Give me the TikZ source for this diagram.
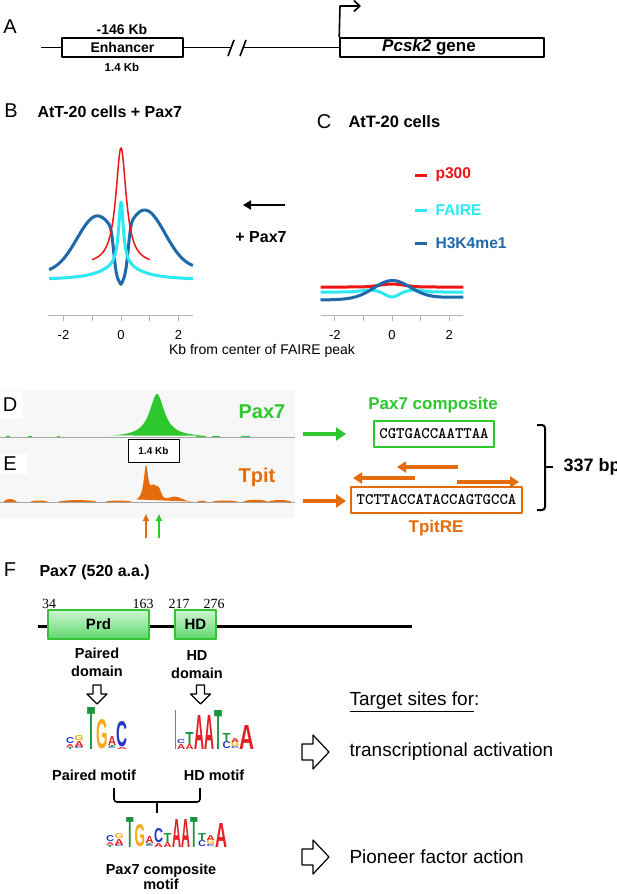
\documentclass[tikz,border=0pt]{standalone}
\usepackage{fontspec}
\setmainfont{Liberation Sans}
\newfontfamily\serifnum{Liberation Serif}
\usepackage{graphicx}
\usetikzlibrary{arrows.meta}
\definecolor{pred}{RGB}{240,20,20}
\definecolor{pcyan}{RGB}{45,232,240}
\definecolor{pblue}{RGB}{30,105,170}
\definecolor{pgreen}{RGB}{45,200,45}
\definecolor{porange}{RGB}{228,108,10}
\definecolor{lred}{RGB}{228,30,35}
\definecolor{lblue}{RGB}{35,55,200}
\definecolor{lgreen}{RGB}{25,150,60}
\definecolor{lorange}{RGB}{250,168,20}
\definecolor{boxtop}{RGB}{205,246,210}
\definecolor{boxbot}{RGB}{95,215,110}
\newcommand{\fs}[1]{\fontsize{#1}{#1}\selectfont}
\newcommand{\LL}[6]{\node[anchor=south west,inner sep=0pt,outer sep=0pt,text=#5] at (#1,#2) {\resizebox{#3pt}{#4pt}{\bfseries #6}};}
\newcommand{\bump}[5]{\fill[#5] (#1,#4) .. controls (#1+3,#4-#3) and (#2-3,#4-#3) .. (#2,#4) -- cycle;}
\tikzset{
  thickarrow/.style={line width=4.5pt,-{Triangle[length=10pt,width=13pt]}},
  gridax/.style={gray!60,line width=0.8pt},
  openarrow/.style={line width=1.2pt,fill=white,draw=black},
  domainbox/.style={draw={rgb,255:red,55;green,195;blue,55},top color=boxtop,bottom color=boxbot,line width=1.2pt,minimum height=29pt,inner sep=0pt},
  seqbox/.style={line width=1.2pt,minimum height=26pt,inner sep=0pt},
  twoline/.style={align=center,font={\fontsize{14.5}{#1}\selectfont\bfseries}}
}
\begin{document}
\begin{tikzpicture}[x=1pt,y=-1pt,line join=round]
\useasboundingbox (0,0) rectangle (616,894);
\fill[white] (0,0) rectangle (616,894);

% ---------- Panel A
\node (labA) at (10,27) {\fs{20}A};
\node[draw,line width=1.6pt,minimum width=121pt,minimum height=19pt,inner sep=0pt] (enh) at (122.5,47.5) {\fs{14}\bfseries Enhancer};
\node (kb146) at (122,29) {\fs{14}\bfseries -146 Kb};
\node (kb14) at (122,67) {\fs{11.5}\bfseries 1.4 Kb};
\node[draw,line width=1.6pt,minimum width=204pt,minimum height=19pt,inner sep=0pt] (pcsk) at (442,47.5) {};
\node (pcsktxt) at (429,47.5) {\fs{17}\bfseries\itshape Pcsk2\upshape\ gene};
\coordinate (lineL) at (41,47.5);
\coordinate (br1) at (231,47.5);
\coordinate (br2) at (243,47.5);
\draw[line width=1.6pt] (lineL) -- (enh.west);
\draw[line width=1.6pt] (enh.east) -- (br1);
\draw[line width=1.6pt] (br2) -- (pcsk.west);
\draw[line width=1.6pt] (228,56) -- (234,40);
\draw[line width=1.6pt] (240,56) -- (246,40);
\coordinate (tss) at (340,6);
\coordinate (tssend) at (361,6);
\draw[line width=1.6pt,-{Straight Barb[length=6pt,width=11pt]}] (pcsk.north west) -- (tss) -- (tssend);

% ---------- Panel B
\node (labB) at (11,111) {\fs{20}B};
\node[anchor=west] (titB) at (34,112) {\fs{16}\bfseries AtT-20 cells + Pax7};
\draw[gridax] (48,315) -- (193,315);
\foreach \t in {-2,-1,0,1,2} \draw[gridax] ({121+28.75*\t},315) -- ++(0,6);
\foreach \t/\l in {-2/-2,0/0,2/2} \node (bt\t) at ({121+28.75*\t},335) {\fs{13}\l};
\draw[pblue,line width=3pt] plot[domain=-2.5:2.5,samples=201,smooth] ({121+28.75*\x},{271-2*tanh(3*\x)-(58+tanh(3*\x))*exp(-(abs(\x)-0.82)*(abs(\x)-0.82))+43*exp(-((\x/0.276)*(\x/0.276))*((\x/0.276)*(\x/0.276)))});
\draw[pcyan,line width=3pt] plot[domain=-2.5:2.5,samples=201,smooth] ({121+28.75*\x},{280-14/(1+\x*\x/0.64)-64/(1+\x*\x/0.01)});
\draw[pred,line width=1.5pt] plot[domain=-1:1,samples=161,smooth] ({121+28.75*\x},{265-117/(1+\x*\x/0.0484)});

% arrow + Pax7
\coordinate (aR) at (285,205);
\coordinate (aL) at (243,205);
\draw[line width=2.4pt,-{Triangle[length=8pt,width=9pt]}] (aR) -- (aL);
\node (plus) at (261,237) {\fs{16}\bfseries + Pax7};

% ---------- Panel C
\node (labC) at (324,122) {\fs{20}C};
\node[anchor=west] (titC) at (345,122) {\fs{16.5}\bfseries AtT-20 cells};
\draw[pred,line width=3pt] (415,175) -- (427,175);
\node[anchor=west,text=pred] (lgp) at (432,175) {\fs{15.6}\bfseries p300};
\draw[pcyan,line width=3pt] (415,210) -- (427,210);
\node[anchor=west,text=pcyan] (lgf) at (432,210) {\fs{15.6}\bfseries FAIRE};
\draw[pblue,line width=3pt] (415,243) -- (427,243);
\node[anchor=west,text=pblue] (lgh) at (432,243) {\fs{15.6}\bfseries H3K4me1};
\draw[gridax] (321,315) -- (463,315);
\foreach \t in {-2,-1,0,1,2} \draw[gridax] ({392+28.6*\t},315) -- ++(0,6);
\foreach \t/\l in {-2/-2,0/0,2/2} \node (ct\t) at ({392+28.6*\t},335) {\fs{13}\l};
\draw[pcyan,line width=3pt] plot[domain=-2.5:2.5,samples=101,smooth] ({392+28.6*\x},{292+5*exp(-\x*\x/0.1)-2*exp(-(abs(\x)-0.8)*(abs(\x)-0.8)/0.16)});
\draw[pred,line width=3pt] plot[domain=-2.5:2.5,samples=101,smooth] ({392+28.6*\x},{287-3*exp(-\x*\x/0.36)});
\draw[pblue,line width=3pt] plot[domain=-2.5:2.5,samples=101,smooth] ({392+28.6*\x},{300-18*exp(-\x*\x/0.81)-0.6*(\x+2.5)});
\node (xlab) at (262,351) {\fs{14}Kb from center of FAIRE peak};

% ---------- Panels D / E
\fill[gray!6] (0,390) rectangle (295,518);
\fill[white] (0,391) rectangle (23,419);
\fill[white] (0,454) rectangle (27,474);
\node (labD) at (10,405) {\fs{20}D};
\node (labE) at (10,464) {\fs{20}E};
\draw[gray!70,line width=0.7pt] (0,437) -- (295,437);
\draw[gray!70,line width=0.7pt] (0,502) -- (295,502);
\fill[pgreen] plot[domain=-47:48,samples=160] ({157+\x},{437-43/(1+\x*\x/81)}) -- cycle;
\foreach \a/\b in {6/10,28/32,57/60,196/206,212/220,241/250} \fill[pgreen] (\a,437) rectangle (\b,435.6);
\fill[porange] plot[domain=-10:48,samples=200] ({146+\x},{502-36/(1+\x*\x/7.84)-15*(1+0.1*sin((\x+12)*45))*exp(-(\x-10)*(\x-10)/36)-5*exp(-(\x-29)*(\x-29)/100)}) -- cycle;
\bump{3}{17}{4}{502}{porange}
\bump{30}{48}{2}{502}{porange}
\bump{58}{97}{2.5}{502}{porange}
\bump{105}{132}{2}{502}{porange}
\bump{197}{207}{1.8}{502}{porange}
\bump{212}{238}{2}{502}{porange}
\bump{243}{268}{3}{502}{porange}
\bump{268}{292}{2.6}{502}{porange}
\node[draw,fill=white,line width=0.8pt,minimum width=51pt,minimum height=23pt,inner sep=0pt] (kbbox) at (153.5,450.5) {\fs{10}\bfseries 1.4 Kb};
\node[text=pgreen] (dpax) at (262,412) {\fs{20}\bfseries Pax7};
\node[text=porange] (etpit) at (257,477) {\fs{20}\bfseries Tpit};
\coordinate (uo0) at (146,538); \coordinate (uo1) at (146,514);
\coordinate (ug0) at (159,538); \coordinate (ug1) at (159,514);
\draw[porange,line width=1.8pt,-{Triangle[length=7pt,width=6pt]}] (uo0) -- (uo1);
\draw[pgreen,line width=1.8pt,-{Triangle[length=7pt,width=6pt]}] (ug0) -- (ug1);

% right side of D / E
\node[text=pgreen] (pcomp) at (433,405) {\fs{17}\bfseries Pax7 composite};
\node[seqbox,draw=pgreen,minimum width=120pt] (gbox) at (434,434) {\fs{16}\ttfamily\bfseries CGTGACCAATTAA};
\node[seqbox,draw=porange,minimum width=171pt] (obox) at (436.5,500) {\fs{16}\ttfamily\bfseries TCTTACCATACCAGTGCCA};
\node[text=porange] (tpitre) at (436,528) {\fs{17}\bfseries TpitRE};
\coordinate (ga0) at (303,434); \coordinate (ga1) at (346,434);
\coordinate (oa0) at (303,501); \coordinate (oa1) at (346,501);
\draw[thickarrow,pgreen] (ga0) -- (ga1);
\draw[thickarrow,porange] (oa0) -- (oa1);
\coordinate (r1a) at (458,467); \coordinate (r1b) at (397,467);
\coordinate (r2a) at (415,478); \coordinate (r2b) at (353,478);
\coordinate (r3a) at (457,482); \coordinate (r3b) at (519,482);
\draw[porange,line width=4pt,-{Triangle[length=9pt,width=11pt]}] (r1a) -- (r1b);
\draw[porange,line width=4pt,-{Triangle[length=9pt,width=11pt]}] (r2a) -- (r2b);
\draw[porange,line width=4pt,-{Triangle[length=9pt,width=11pt]}] (r3a) -- (r3b);
\draw[line width=2pt,rounded corners=3pt] (537,425) -- (545,425) -- (545,510) -- (537,510);
\draw[line width=2pt] (545,467) -- (553,467);
\node[anchor=west] (bp) at (560,467) {\fs{18}\bfseries 337 bp};

% ---------- Panel F
\node (labF) at (10,570) {\fs{20}F};
\node[anchor=west] (titF) at (36,572) {\fs{16}\bfseries Pax7 (520 a.a.)};
\node (n34) at (49,604) {\fs{14}\serifnum 34};
\node (n163) at (143,604) {\fs{14}\serifnum 163};
\node (n217) at (179,604) {\fs{14}\serifnum 217};
\node (n276) at (214,604) {\fs{14}\serifnum 276};
\coordinate (pl0) at (38,626); \coordinate (pl1) at (412,626);
\draw[line width=3pt] (pl0) -- (pl1);
\node[domainbox,minimum width=101pt] (prd) at (98.5,624.5) {\fs{15}\bfseries Prd};
\node[domainbox,minimum width=41pt] (hd) at (195.5,624.5) {\fs{15}\bfseries HD};
\node[twoline=18] (pdom) at (97,662) {Paired\\domain};
\node[twoline=17.5] (hdom) at (197,664.5) {HD\\domain};
\draw[openarrow] (93,685) -- (101,685) -- (101,694) -- (107,694) -- (97,704) -- (87,694) -- (93,694) -- cycle;
\draw[openarrow] (196.5,685) -- (204.5,685) -- (204.5,694) -- (210.5,694) -- (200.5,704) -- (190.5,694) -- (196.5,694) -- cycle;

% paired motif logo
\LL{66}{749}{8}{2}{lgreen}{T}
\LL{66}{747}{8}{3}{lred}{A}
\LL{66}{744}{8}{6}{lblue}{C}
\LL{74.5}{749}{9}{2}{lblue}{C}
\LL{74.5}{747}{9}{6}{lred}{A}
\LL{74.5}{741}{9}{5}{lorange}{G}
\LL{87}{749}{8}{42}{lgreen}{T}
\LL{96}{749}{11.5}{29}{lorange}{G}
\LL{108}{749}{8}{2}{lblue}{C}
\LL{108}{747}{8}{2}{lgreen}{T}
\LL{108}{745}{8}{9}{lred}{A}
\LL{116.5}{749}{11}{2}{lred}{A}
\LL{116.5}{747}{11}{25}{lblue}{C}
% HD motif logo
\draw[gray,line width=0.8pt] (175,710) -- (175,749);
\LL{177}{749}{8}{5}{lred}{A}
\LL{177}{744}{8}{4}{lblue}{C}
\LL{185.5}{749}{8}{5}{lred}{A}
\LL{185.5}{744}{8}{12}{lgreen}{T}
\LL{194}{749}{10}{34}{lred}{A}
\LL{204}{749}{10}{34}{lred}{A}
\LL{214}{749}{8}{39}{lgreen}{T}
\LL{222.5}{749}{8}{7}{lblue}{C}
\LL{222.5}{742}{8}{9}{lgreen}{T}
\LL{231}{749}{8}{2}{lblue}{C}
\LL{231}{747}{8}{5}{lorange}{G}
\LL{231}{742}{8}{4}{lred}{A}
\LL{239.5}{749}{15}{24}{lred}{A}

\node (pmot) at (94,775) {\fs{14.5}\bfseries Paired motif};
\node (hmot) at (214,775) {\fs{14.5}\bfseries HD motif};
\draw[line width=1.6pt,rounded corners=3pt] (114,788) -- (114,802) -- (200,802) -- (200,788);
\draw[line width=1.6pt] (157,802) -- (157,813);

% composite logo
\LL{106}{847}{8}{2}{lgreen}{T}
\LL{106}{845}{8}{3}{lred}{A}
\LL{106}{842}{8}{6}{lblue}{C}
\LL{114.5}{847}{9}{2}{lblue}{C}
\LL{114.5}{845}{9}{6}{lred}{A}
\LL{114.5}{839}{9}{5}{lorange}{G}
\LL{126}{847}{7.5}{30}{lgreen}{T}
\LL{134.5}{847}{10.5}{22}{lorange}{G}
\LL{145.5}{847}{8}{2}{lblue}{C}
\LL{145.5}{845}{8}{2}{lgreen}{T}
\LL{145.5}{843}{8}{7}{lred}{A}
\LL{154}{847}{9}{4}{lred}{A}
\LL{154}{843}{9}{14}{lblue}{C}
\LL{163.5}{847}{8}{5}{lred}{A}
\LL{163.5}{842}{8}{9}{lgreen}{T}
\LL{172}{847}{9}{28}{lred}{A}
\LL{181}{847}{9}{28}{lred}{A}
\LL{190}{847}{7.5}{30}{lgreen}{T}
\LL{198}{847}{8}{6}{lblue}{C}
\LL{198}{841}{8}{8}{lgreen}{T}
\LL{206.5}{847}{8}{2}{lblue}{C}
\LL{206.5}{845}{8}{5}{lorange}{G}
\LL{206.5}{840}{8}{5}{lred}{A}
\LL{215}{847}{12}{24}{lred}{A}
\node[twoline=15] (cmot) at (161,876.5) {Pax7 composite\\motif};

% right column
\node[anchor=west] (target) at (346,702) {\fs{19}\underline{Target sites for}:};
\draw[openarrow] (302,744) -- (313,744) -- (313,735) -- (329,752) -- (313,769) -- (313,760) -- (302,760) -- cycle;
\draw[openarrow] (302,849) -- (313,849) -- (313,840) -- (329,857) -- (313,874) -- (313,865) -- (302,865) -- cycle;
\node[anchor=west] (tact) at (346,752) {\fs{19}transcriptional activation};
\node[anchor=west] (pion) at (346,857) {\fs{19}Pioneer factor action};
\end{tikzpicture}
\end{document}
